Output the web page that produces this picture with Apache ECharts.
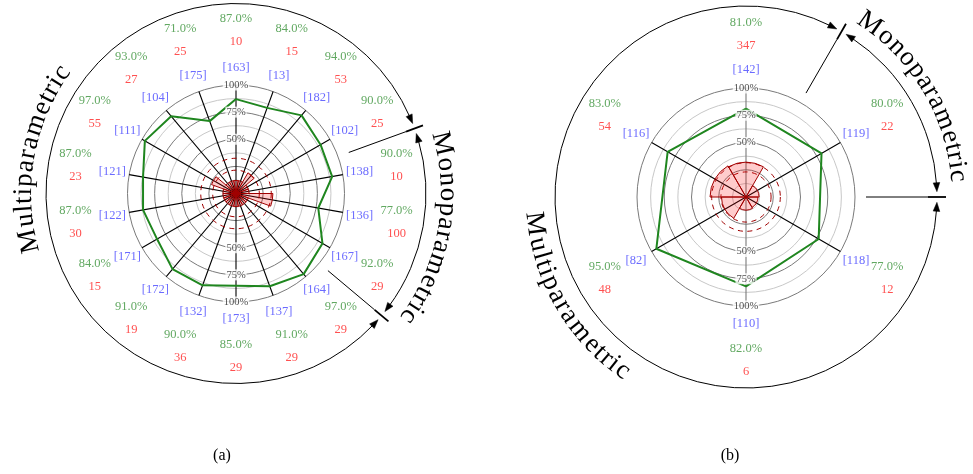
<!DOCTYPE html>
<html><head><meta charset="utf-8">
<script src="https://cdn.jsdelivr.net/npm/echarts@6/dist/echarts.min.js"></script>
<style>html,body{margin:0;padding:0;background:#fff}#c{width:973px;height:474px}</style>
</head><body><div id="c"></div>
<script>
// ---------------- data ----------------
// (a) 18 categories, clockwise from top
const idsA   = ['[163]','[13]','[182]','[102]','[138]','[136]','[167]','[164]','[137]','[173]','[132]','[172]','[171]','[122]','[121]','[111]','[104]','[175]'];
const accA   = [87,84,94,90,90,77,92,97,91,85,90,91,84,87,87,97,93,71];
const countA = [10,15,53,25,10,100,29,29,29,29,36,19,15,30,23,55,27,25];
const barA   = [12,12,22,12,12,34,12,12,12,12,12,12,12,12,12,24,12,12];
const refA   = [21.5,32.5];
const monoA  = [70,130];      // boundary angles of the Monoparametric group
// (b) 6 categories
const idsB   = ['[142]','[119]','[118]','[110]','[82]','[116]'];
const accB   = [81,80,77,82,95,83];
const countB = [347,22,12,6,48,54];
const barB   = [32,12,11,12,22.5,33];
const refB   = [23,31.5];
const monoB  = [30,90];
const ringTicks = [100,75,50];
const groupNames = ['Monoparametric','Multiparametric'];
const captions = ['(a)','(b)'];

// ---------------- layout / style ----------------
const FONT = "'Liberation Serif','DejaVu Serif',serif";
const BLUE = '#4646ff', GREEN = '#3a923a', RED = '#ff2424', LINE_GREEN = '#1f861f', DARKRED = '#a00000';
const LA = {cx:236, cy:193.5, R:108.5, outerR:190, idR:125.5, pairR:163, textR:212, spokes:['#000'],
            monoCenter:100, multiCenter:280, multiInward:false, capX:222};
const LB = {cx:746, cy:197, R:109, outerR:191, idR:127, pairR:163, textR:213, spokes:['#7a7a7a','#000','#000'],
            monoCenter:59, multiCenter:240, multiInward:true, capX:730};

const polar=[], angleAxis=[], radiusAxis=[], series=[], graphic=[];
const rad = d => d*Math.PI/180;
const pt = (cx,cy,r,t) => [cx + r*Math.sin(rad(t)), cy - r*Math.cos(rad(t))];
function addPolar(cx,cy,r){ polar.push({center:[cx,cy], radius:r}); return polar.length-1; }

function buildChart(L, ids, acc, cnt, bars, refs, mono){
  const n = ids.length, step = 360/n;
  // dashed reference circles
  refs.forEach(lv => {
    const p = addPolar(L.cx, L.cy, L.R*lv/100);
    angleAxis.push({polarIndex:p, type:'value', min:0, max:360, startAngle:90, z:1,
      axisLine:{show:true, lineStyle:{color:DARKRED, width:1, type:[5,4.5]}},
      axisTick:{show:false}, axisLabel:{show:false}, splitLine:{show:false}});
    radiusAxis.push({polarIndex:p, type:'value', min:0, max:1, show:false});
  });
  // main polar: rings + spokes
  const main = addPolar(L.cx, L.cy, L.R);
  angleAxis.push({polarIndex:main, type:'value', min:0, max:360, interval:step, startAngle:90, clockwise:true, z:0,
    axisLine:{show:false}, axisTick:{show:false}, axisLabel:{show:false},
    splitLine:{show:true, lineStyle:{color:L.spokes, width:1.1}}});
  radiusAxis.push({polarIndex:main, type:'value', min:0, max:100, interval:12.5, z:0,
    axisLine:{show:false}, axisTick:{show:false}, axisLabel:{show:false},
    splitLine:{show:true, lineStyle:{color:['#7a7a7a','#c8c8c8'], width:1}}});
  // bar polar (category bands centred on spokes)
  const bp = addPolar(L.cx, L.cy, L.R);
  angleAxis.push({polarIndex:bp, type:'category', data:ids, startAngle:90+step/2, clockwise:true, show:false});
  radiusAxis.push({polarIndex:bp, type:'value', min:0, max:100, show:false});
  series.push({type:'bar', coordinateSystem:'polar', polarIndex:bp, data:bars, barCategoryGap:'0%', z:3, silent:true,
    itemStyle:{color:'rgba(255,0,0,0.2)', borderColor:DARKRED, borderWidth:1}});
  // green accuracy line
  const pts = acc.map((v,i)=>[v, i*step]); pts.push([acc[0], 360]);
  series.push({type:'line', coordinateSystem:'polar', polarIndex:main, data:pts, symbol:'none', z:5, silent:true,
    lineStyle:{color:LINE_GREEN, width:2}});
  // ring tick labels
  const ringData = ringTicks.map(v=>[v,0]).concat(ringTicks.map(v=>[v,180]));
  series.push({type:'scatter', coordinateSystem:'polar', polarIndex:main, clip:false, symbolSize:1, z:6, silent:true,
    itemStyle:{color:'rgba(0,0,0,0)'}, data:ringData,
    label:{show:true, position:'inside', formatter:p=>p.value[0]+'%', backgroundColor:'#fff', padding:[0,1],
      fontFamily:FONT, fontSize:10.5, color:'#222'}});
  // id labels
  series.push({type:'scatter', coordinateSystem:'polar', polarIndex:main, clip:false, symbolSize:1, z:7, silent:true,
    itemStyle:{color:'rgba(0,0,0,0)'},
    label:{show:true, position:'inside', color:BLUE, fontFamily:FONT, fontSize:12.5},
    data: ids.map((t,i)=>({value:[L.idR/L.R*100, i*step], label:{formatter:t}}))});
  // accuracy / count pairs
  series.push({type:'scatter', coordinateSystem:'polar', polarIndex:main, clip:false, symbolSize:1, z:7, silent:true,
    itemStyle:{color:'rgba(0,0,0,0)'},
    label:{show:true, position:'inside', rich:{
      p:{color:GREEN, fontFamily:FONT, fontSize:12.5, lineHeight:23},
      c:{color:RED, fontFamily:FONT, fontSize:12.5, lineHeight:23}}},
    data: acc.map((v,i)=>({value:[L.pairR/L.R*100, i*step], label:{formatter:'{p|'+v.toFixed(1)+'%}\n{c|'+cnt[i]+'}'}}))});

  // ---- outer group arcs, ticks, boundary lines ----
  const [m1, m2] = mono;
  arrowArc(L, m1, m2);
  arrowArc(L, m2, m1+360);
  [m1, m2].forEach(t => {
    const a = pt(L.cx,L.cy,120,t), b = pt(L.cx,L.cy,L.outerR-9,t), c = pt(L.cx,L.cy,L.outerR+9,t);
    graphic.push({type:'line', silent:true, shape:{x1:a[0], y1:a[1], x2:b[0], y2:b[1]}, style:{stroke:'#000', lineWidth:1}});
    graphic.push({type:'line', silent:true, shape:{x1:b[0], y1:b[1], x2:c[0], y2:c[1]}, style:{stroke:'#000', lineWidth:1.8}});
  });
  arcText(groupNames[0], L.cx, L.cy, L.textR, L.monoCenter, false);
  arcText(groupNames[1], L.cx, L.cy, L.textR, L.multiCenter, L.multiInward);
}

function arrowArc(L, t1, t2){
  const r = L.outerR, gap = 1.6, aLen = 9, aW = 3.3;
  const la = aLen/r*180/Math.PI;
  const s = t1+gap, e = t2-gap;
  graphic.push({type:'arc', silent:true, shape:{cx:L.cx, cy:L.cy, r:r, startAngle:rad(s+la*0.7-90), endAngle:rad(e-la*0.7-90), clockwise:true},
    style:{stroke:'#000', lineWidth:1, fill:'none'}});
  [[e, e-la], [s, s+la]].forEach(([tip, base]) => {
    graphic.push({type:'polygon', silent:true, shape:{points:[pt(L.cx,L.cy,r,tip), pt(L.cx,L.cy,r-aW,base), pt(L.cx,L.cy,r+aW,base)]},
      style:{fill:'#000', stroke:'#000', lineWidth:0.5}});
  });
}

const mctx = document.createElement('canvas').getContext('2d');
const BIGFONT = "27px 'Liberation Serif','DejaVu Serif',serif";
function arcText(text, cx, cy, r, center, inward){
  mctx.font = BIGFONT;
  const chars = [...text];
  const w = chars.map(c=>mctx.measureText(c).width);
  const spread = 1.12;
  const total = w.reduce((a,b)=>a+b,0)*spread;
  let acc = 0;
  chars.forEach((ch,i)=>{
    const mid = acc + w[i]*spread/2; acc += w[i]*spread;
    const off = (mid - total/2)/r*180/Math.PI;
    const t = inward ? center - off : center + off;
    const p = pt(cx, cy, r, t);
    const rot = inward ? rad(180 - t) : rad(-t);
    graphic.push({type:'text', silent:true, x:p[0], y:p[1], rotation:rot,
      style:{text:ch, font:BIGFONT, fill:'#000', align:'center', verticalAlign:'middle', textAlign:'center', textVerticalAlign:'middle'}});
  });
}

buildChart(LA, idsA, accA, countA, barA, refA, monoA);
buildChart(LB, idsB, accB, countB, barB, refB, monoB);
[LA, LB].forEach((L,i)=>{
  graphic.push({type:'text', silent:true, x:L.capX, y:456,
    style:{text:captions[i], font:"16px 'Liberation Serif','DejaVu Serif',serif", fill:'#000', align:'center', verticalAlign:'middle', textAlign:'center', textVerticalAlign:'middle'}});
});

const chart = echarts.init(document.getElementById('c'), null, {renderer:'canvas'});
chart.setOption({animation:false, backgroundColor:'#fff', polar, angleAxis, radiusAxis, series, graphic});
</script>
</body></html>
